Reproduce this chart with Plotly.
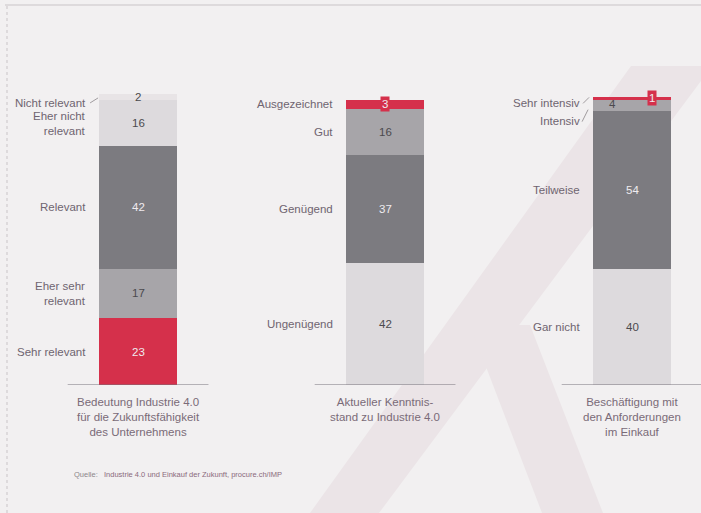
import plotly.graph_objects as go

# ---------------- data ----------------
questions = [
    "Bedeutung Industrie 4.0<br>für die Zukunftsfähigkeit<br>des Unternehmens",
    "Aktueller Kenntnis-<br>stand zu Industrie 4.0",
    "Beschäftigung mit<br>den Anforderungen<br>im Einkauf",
]

# segments listed bottom -> top
q1_labels = ["Sehr relevant", "Eher sehr<br>relevant", "Relevant", "Eher nicht<br>relevant", "Nicht relevant"]
q1_values = [23, 17, 42, 16, 2]

q2_labels = ["Ungenügend", "Genügend", "Gut", "Ausgezeichnet"]
q2_values = [42, 37, 16, 3]

q3_labels = ["Gar nicht", "Teilweise", "Intensiv", "Sehr intensiv"]
q3_values = [40, 54, 4, 1]

source_text = "Quelle:   <span style='color:#8a6a7c'>Industrie 4.0 und Einkauf der Zukunft, procure.ch/IMP</span>"

# ---------------- styles ----------------
RED = "#d5304b"
DARK = "#7c7b80"
MID = "#a7a5a9"
LIGHT = "#dddadd"
LIGHTER = "#e8e4e6"

q1_colors = [RED, MID, DARK, LIGHT, LIGHTER]
q2_colors = [LIGHT, DARK, MID, RED]
q3_colors = [LIGHT, DARK, MID, RED]

LABEL_COLOR = "#6f6470"
DARK_TEXT = "#4b4a4e"
LIGHT_TEXT = "#efebef"
FONT = "Liberation Sans, Arial, sans-serif"
FS = 11.5

BAR_W = 0.316
W, H = 701, 513

all_labels = [q1_labels, q2_labels, q3_labels]
all_values = [q1_values, q2_values, q3_values]
all_colors = [q1_colors, q2_colors, q3_colors]

# label position tweaks (pixels) for the thin top segments
label_yshift = {"Nicht relevant": -6, "Sehr intensiv": -5, "Intensiv": -15}
leaders = {
    "Nicht relevant": (-48, -6, -40, -1),
    "Sehr intensiv": (-49, -5, -43, 1),
    "Intensiv": (-50, -16, -44, -4),
}

fig = go.Figure()
annotations = []
shapes = []

# faint background "X" watermark
def ppath(pts):
    return "M " + " L ".join(f"{x / W:.4f},{1 - y / H:.4f}" for x, y in pts) + " Z"

WM = "#ebe4e7"
shapes.append(dict(type="path", xref="paper", yref="paper", layer="below",
                   path=ppath([(310, 513), (379, 513), (701, 81), (701, 66), (631, 66)]),
                   fillcolor=WM, line=dict(width=0)))
shapes.append(dict(type="path", xref="paper", yref="paper", layer="below",
                   path=ppath([(470, 325), (530, 325), (603, 513), (542, 513)]),
                   fillcolor=WM, line=dict(width=0)))

# page frame
shapes.append(dict(type="line", xref="paper", yref="paper", x0=5 / W, x1=1, y0=1 - 5 / H, y1=1 - 5 / H,
                   line=dict(color="#c9c4c7", width=1)))
shapes.append(dict(type="line", xref="paper", yref="paper", x0=7 / W, x1=7 / W, y0=0, y1=1 - 5 / H,
                   line=dict(color="#c9c4c7", width=1, dash="dot")))

for qi, (q, labels, values, colors) in enumerate(zip(questions, all_labels, all_values, all_colors)):
    cum = 0
    for lab, val, col in zip(labels, values, colors):
        fig.add_trace(go.Bar(
            x=[q], y=[val], width=BAR_W, name=lab.replace("<br>", " "),
            marker=dict(color=col, line=dict(width=0)),
            showlegend=False, hoverinfo="skip",
        ))
        mid = cum + val / 2
        cum += val
        plain = lab.replace("<br>", " ")

        # category label on the left
        annotations.append(dict(
            x=q, y=mid, xref="x", yref="y", text=lab, showarrow=False,
            xanchor="right", yanchor="middle", align="right",
            xshift=-50, yshift=label_yshift.get(plain, 0),
            font=dict(family=FONT, size=FS, color=LABEL_COLOR),
        ))
        if plain in leaders:
            x0, y0, x1, y1 = leaders[plain]
            shapes.append(dict(
                type="line", xref="x", yref="y", xsizemode="pixel", ysizemode="pixel",
                xanchor=qi, yanchor=mid, x0=x0, y0=y0, x1=x1, y1=y1,
                line=dict(color="#8a8589", width=0.8),
            ))

        # value label
        on_dark = col in (RED, DARK)
        vann = dict(
            x=q, y=mid, xref="x", yref="y", text=str(val), showarrow=False,
            xanchor="center", yanchor="middle",
            font=dict(family=FONT, size=FS, color=LIGHT_TEXT if on_dark else DARK_TEXT),
        )
        if col == RED and val < 5:
            vann.update(bgcolor=RED, borderpad=1)
            if plain == "Sehr intensiv":
                vann.update(xshift=20)
        if plain == "Intensiv":
            vann.update(xshift=-20, yshift=2)
        annotations.append(vann)

    # baseline under each bar
    shapes.append(dict(type="line", xref="x", yref="y", x0=qi - 0.285, x1=qi + 0.285, y0=0, y1=0,
                       line=dict(color="#77737a", width=1)))
    # question title under the bar
    annotations.append(dict(
        x=q, y=0, xref="x", yref="y", text=q, showarrow=False,
        xanchor="center", yanchor="top", align="center", yshift=-9,
        font=dict(family=FONT, size=FS, color="#7a6b78"),
    ))

# source line
annotations.append(dict(
    x=72 / W, y=1 - 474 / H, xref="paper", yref="paper", text=source_text, showarrow=False,
    xanchor="left", yanchor="middle", font=dict(family=FONT, size=7.5, color="#8c878b"),
))

fig.update_layout(
    width=W, height=H,
    margin=dict(l=0, r=0, t=0, b=0),
    paper_bgcolor="#f2f0f1", plot_bgcolor="rgba(0,0,0,0)",
    barmode="stack", bargap=0,
    xaxis=dict(type="category", categoryorder="array", categoryarray=questions,
               range=[-0.559, 2.279], domain=[0, 1],
               showticklabels=False, showgrid=False, zeroline=False, showline=False, ticks=""),
    yaxis=dict(range=[0, 100], domain=[1 - 385 / H, 1 - 94 / H],
               showticklabels=False, showgrid=False, zeroline=False, showline=False, ticks=""),
    annotations=annotations, shapes=shapes,
)

fig.write_html("out.html")
